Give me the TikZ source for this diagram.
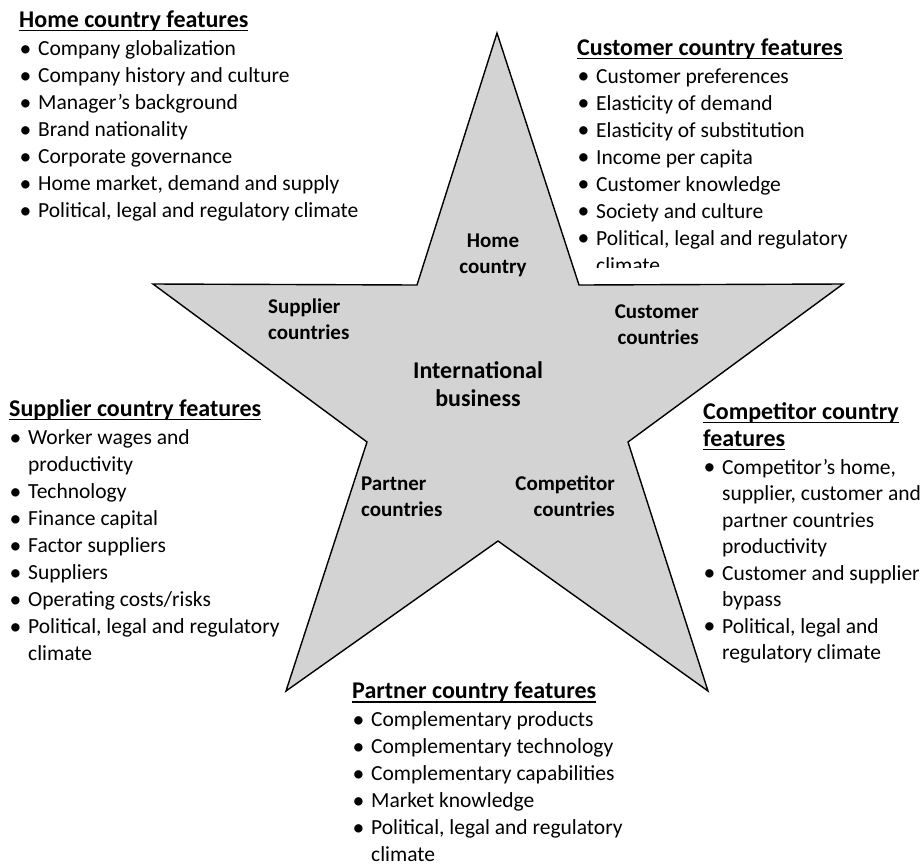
\documentclass[tikz,border=0pt]{standalone}
\usepackage{fontspec}
\setmainfont{Carlito}
\definecolor{starfill}{RGB}{211,211,211}
\newsavebox\hulbox
\newcommand\hul[1]{\sbox\hulbox{#1}\rlap{\rule[-3.8pt]{\wd\hulbox}{1.5pt}}\usebox\hulbox}
\newcommand\hd[1]{{\bfseries\fontsize{24}{27}\selectfont\hul{#1}}}
\newcommand\bul{\raisebox{-0.5pt}{\scalebox{1.1}{\textbullet}}}
\newcommand\itm[1]{\hspace*{0.5pt}\makebox[18.5pt][l]{\bul}#1}
\newcommand\cnt[1]{\hspace*{19pt}#1}
\tikzset{
  listtext/.style={anchor=north west, inner sep=0pt, align=left, font=\fontsize{21.5}{27}\selectfont},
  starlabel/.style={inner sep=0pt, font=\bfseries\fontsize{21}{26}\selectfont},
  biglabel/.style={inner sep=0pt, font=\bfseries\fontsize{24}{28}\selectfont},
  starshape/.style={draw=black, line width=1.4pt, fill=starfill, line join=miter},
}
\begin{document}
\begin{tikzpicture}[x=1pt, y=-1pt]
\useasboundingbox (0,0) rectangle (924,863);
% star
\draw[starshape] (497,33) -- (579,285) -- (843,284) -- (628,442) -- (708,691) -- (498,541) -- (286,691) -- (367,442) -- (153,284) -- (417,285) -- cycle;
% star labels
\node[starlabel, align=center] (home) at (493,255) {Home\\country};
\node[starlabel, align=left, anchor=west] (supp) at (268,319) {Supplier\\countries};
\node[starlabel, align=right, anchor=east] (cust) at (699,324.5) {Customer\\countries};
\node[biglabel, align=center] (ib) at (478,384) {International\\business};
\node[starlabel, align=left, anchor=west] (part) at (361,497) {Partner\\countries};
\node[starlabel, align=right, anchor=east] (comp) at (615,496) {Competitor\\countries};
% home list
\node[listtext] (homelist) at (19,10.8) {\hd{Home country features}\\[1pt]
\itm{Company globalization}\\
\itm{Company history and culture}\\
\itm{Manager’s background}\\
\itm{Brand nationality}\\
\itm{Corporate governance}\\
\itm{Home market, demand and supply}\\
\itm{Political, legal and regulatory climate}};
% customer list (clipped)
\begin{scope}
\clip (560,30) rectangle (924,267);
\node[listtext] (custlist) at (577,38.5) {\hd{Customer country features}\\[1pt]
\itm{Customer preferences}\\
\itm{Elasticity of demand}\\
\itm{Elasticity of substitution}\\
\itm{Income per capita}\\
\itm{Customer knowledge}\\
\itm{Society and culture}\\
\itm{Political, legal and regulatory}\\
\cnt{climate}};
\end{scope}
% supplier list
\node[listtext] (supplist) at (9,399.5) {\hd{Supplier country features}\\[1pt]
\itm{Worker wages and}\\
\cnt{productivity}\\
\itm{Technology}\\
\itm{Finance capital}\\
\itm{Factor suppliers}\\
\itm{Suppliers}\\
\itm{Operating costs/risks}\\
\itm{Political, legal and regulatory}\\
\cnt{climate}};
% competitor list
\node[listtext] (complist) at (703,402.5) {\hd{Competitor country}\\
\hd{features}\\[0.5pt]
\itm{Competitor’s home,}\\[-0.5pt]
\cnt{supplier, customer and}\\[-0.5pt]
\cnt{partner countries}\\[-0.5pt]
\cnt{productivity}\\[-0.5pt]
\itm{Customer and supplier}\\[-0.5pt]
\cnt{bypass}\\[-0.5pt]
\itm{Political, legal and}\\[-0.5pt]
\cnt{regulatory climate}};
% partner list
\node[listtext] (partlist) at (352,682) {\hd{Partner country features}\\[1pt]
\itm{Complementary products}\\
\itm{Complementary technology}\\
\itm{Complementary capabilities}\\
\itm{Market knowledge}\\
\itm{Political, legal and regulatory}\\
\cnt{climate}};
\end{tikzpicture}
\end{document}
